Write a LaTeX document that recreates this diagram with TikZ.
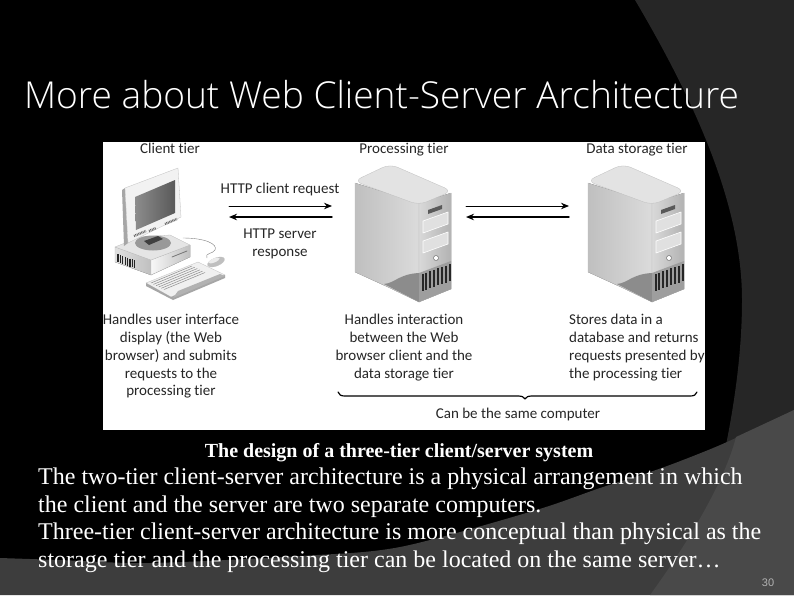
\documentclass[tikz,border=0pt]{standalone}
\usepackage{fontspec}
\usetikzlibrary{arrows.meta}
\setmainfont{Liberation Serif}
\setsansfont{Liberation Sans}
\newfontfamily\tierfont[Ligatures=NoCommon]{Carlito}
\newfontfamily\titlefont{Open Sans Light}
\definecolor{bgdark}{HTML}{262626}
\definecolor{bgmid}{HTML}{3D3D3D}
\definecolor{bglight}{HTML}{494949}
\tikzset{
tierlabel/.style={font=\tierfont\fontsize{15}{17.8}\selectfont,text=black!85,inner sep=0pt,align=center},
slidetext/.style={text=white,inner sep=0pt,align=left},
boxline/.style={draw=black!25,line width=.3pt,line join=round},
}
\begin{document}
\begin{tikzpicture}[>={Stealth[length=8pt,width=6.5pt]},line join=round,line cap=round,x=1pt,y=-1pt]
\useasboundingbox (0,0) rectangle (794,595);
\fill[black] (0,0) rectangle (794,595);
\fill[bgdark] (635,0) .. controls (700,110) and (742,210) .. (742,300) .. controls (742,350) and (735,400) .. (726,445) -- (794,410) -- (794,0) -- cycle;
\fill[bgmid] (0,595) -- plot[smooth] coordinates {(0,558) (60,560) (150,563) (300,556) (400,547) (533,511) (600,488) (650,472) (683,460) (727,442) (794,410)} -- (794,595) -- cycle;
\fill[bglight] (736,437) .. controls (725,480) and (690,540) .. (650,595) -- (794,595) -- (794,410) -- cycle;
\fill[white] (103,142) rectangle (705,430);
\path
(229,206) coordinate (reqL)
(332,206) coordinate (reqR)
(229,217) coordinate (respL)
(332,217) coordinate (respR)
(466,206) coordinate (fwdL)
(569,206) coordinate (fwdR)
(466,217) coordinate (backL)
(569,217) coordinate (backR)
(338,392) coordinate (braceL)
(697,392) coordinate (braceR)
(525,399) coordinate (braceT)
;
% servers
\foreach\s in {-233,0}{
\begin{scope}[xshift=\s pt]
\fill[boxline,left color=black!25,right color=black!14] (588,183) -- (588,272) -- (623,288) -- (652,302) -- (652,203) -- cycle;
\fill[boxline,left color=black!15,right color=black!30] (652,203) -- (652,302) -- (684,289) -- (684,193) -- cycle;
\fill[boxline,fill=black!11,rounded corners=8pt] (587,181) -- (623,164) -- (685,191) -- (652,205) -- cycle;
\fill[black!45] (617,284) .. controls (628,283) and (632,274) .. (652,273) -- (652,302) -- cycle;
\fill[black!38] (652,273) -- (684,261) -- (684,289) -- (652,302) -- cycle;
\foreach\k in {0,...,7}
\draw[black!85,line width=2pt,line cap=butt] ({655.5+\k*3.9},{274-\k*1.4}) -- ({655.5+\k*3.9},{291-\k*1.4});
\fill[black!65] (661,210) -- (675,205) -- (675,209) -- (661,214) -- cycle;
\foreach\b in {0,20}
\draw[white,line width=.6pt,fill=black!12] (656,{221+\b}) -- (681,{212+\b}) -- (681,{224+\b}) -- (656,{233+\b}) -- cycle;
\draw[black!60,fill=white,line width=.5pt] (669,258) circle (2.5pt);
\end{scope}
}
% computer
\fill[boxline,left color=black!12,right color=black!25] (115,247) -- (115,262) -- (151,275) -- (151,260) -- cycle;
\fill[boxline,left color=black!3,right color=black!25] (151,260) -- (190,245) -- (190,257) -- (151,275) -- cycle;
\fill[boxline,fill=black!10] (115,247) -- (140,237) -- (170,235) -- (190,245) -- (151,260) -- cycle;
\foreach\k in {0,...,7}
\draw[black!85,line width=1.1pt,line cap=butt] ({118+\k*2.4},{254+\k*.9}) -- ({118+\k*2.4},{262+\k*.9});
\draw[black!55,line width=.8pt] (172,257) -- (187,251);
\fill[black!40] (153,243) ellipse (18pt and 7.5pt);
\fill[black!75] (144,241) -- (158,236) -- (163,239) -- (149,245) -- cycle;
\fill[black!35] (125,188) -- (122,190) -- (124,246) -- (128,243) -- cycle;
\fill[boxline,fill=black!5] (125,188) -- (178,168) -- (181,217) -- (128,243) -- cycle;
\shade[left color=black!45,right color=black!65] (135,197) -- (175,180) -- (175,213) -- (136,230) -- cycle;
\foreach\x/\y/\w in {134/236/12, 149/231/7, 165/224/12}
\draw[black!60,line width=2.4pt,dash pattern=on .8pt off .8pt,line cap=butt] (\x,\y) -- ({\x+\w},{\y-\w*.42});
\fill[boxline,fill=black!6] (146,283) -- (198,262) -- (225,275) -- (171,297) -- cycle;
\fill[black!35] (171,297) -- (225,275) -- (225,278) -- (173,300) -- (146,286) -- (146,283) -- cycle;
\fill[black!30] (178,291) -- (220,274) -- (225,276) -- (173,298) -- cycle;
\foreach\k in {0,...,5}
\draw[black!45,line width=.5pt] ({151+\k*2.6},{283+\k*1.3}) -- ({192+\k*2.6},{266+\k*1.3});
\draw[black!50,line width=.4pt] (183,238) .. controls (205,238) and (218,244) .. (215,250) .. controls (213,254) and (204,253) .. (207,258);
\draw[boxline,fill=black!25,rotate around={22:(216,262)}] (216,262) ellipse (9pt and 4pt);
\fill[black!8,rotate around={22:(214,260.5)}] (214,260.5) ellipse (6pt and 2pt);
\node[tierlabel,anchor=base] (clientTier) at (170,153) {Client tier};
\node[tierlabel,anchor=base] (procTier) at (404,153) {Processing tier};
\node[tierlabel,anchor=base] (dataTier) at (637,153) {Data storage tier};
\node[tierlabel,anchor=base] (reqText) at (280,193) {HTTP client request};
\node[tierlabel,anchor=north] (respText) at (280,229) {HTTP server\\response};
\node[tierlabel,anchor=north] (clientText) at (171,314) {Handles user interface\\display (the Web\\browser) and submits\\requests to the\\processing tier};
\node[tierlabel,anchor=north] (procText) at (404,314) {Handles interaction\\between the Web\\browser client and the\\data storage tier};
\node[tierlabel,anchor=north west,align=left] (dataText) at (569,314) {Stores data in a\\database and returns\\requests presented by\\the processing tier};
\node[tierlabel,anchor=base] (sameText) at (518,418) {Can be the same computer};
\draw[->,line width=1pt] (reqL)--(reqR);
\draw[->,line width=1.4pt] (respR)--(respL);
\draw[->,line width=1pt] (fwdL)--(fwdR);
\draw[->,line width=1.4pt] (backR)--(backL);
\draw[line width=1.2pt] (braceL) .. controls (339,395) and (341,396) .. (345,396) -- (518,396) .. controls (522,396) and (524,397) .. (braceT) .. controls (526,397) and (528,396) .. (532,396) -- (690,396) .. controls (694,396) and (696,395) .. (braceR);
\node[slidetext,anchor=base west,font=\titlefont\fontsize{37.1}{40}\selectfont] (slideTitle) at (24,108) {More about Web Client-Server Architecture};
\node[slidetext,anchor=base,font=\bfseries\fontsize{20}{22}\selectfont] (figCaption) at (399,457) {The design of a three-tier client/server system};
\node[slidetext,anchor=north west,font=\fontsize{24}{27.4}\selectfont] (slideBody) at (38,468) {The two-tier client-server architecture is a physical arrangement in which\\the client and the server are two separate computers.\\Three-tier client-server architecture is more conceptual than physical as the\\storage tier and the processing tier can be located on the same server\dots};
\node[anchor=base,inner sep=0pt,text=black!30,font=\sffamily\fontsize{11}{12}\selectfont] (pageNum) at (768,586) {30};
\end{tikzpicture}
\end{document}
